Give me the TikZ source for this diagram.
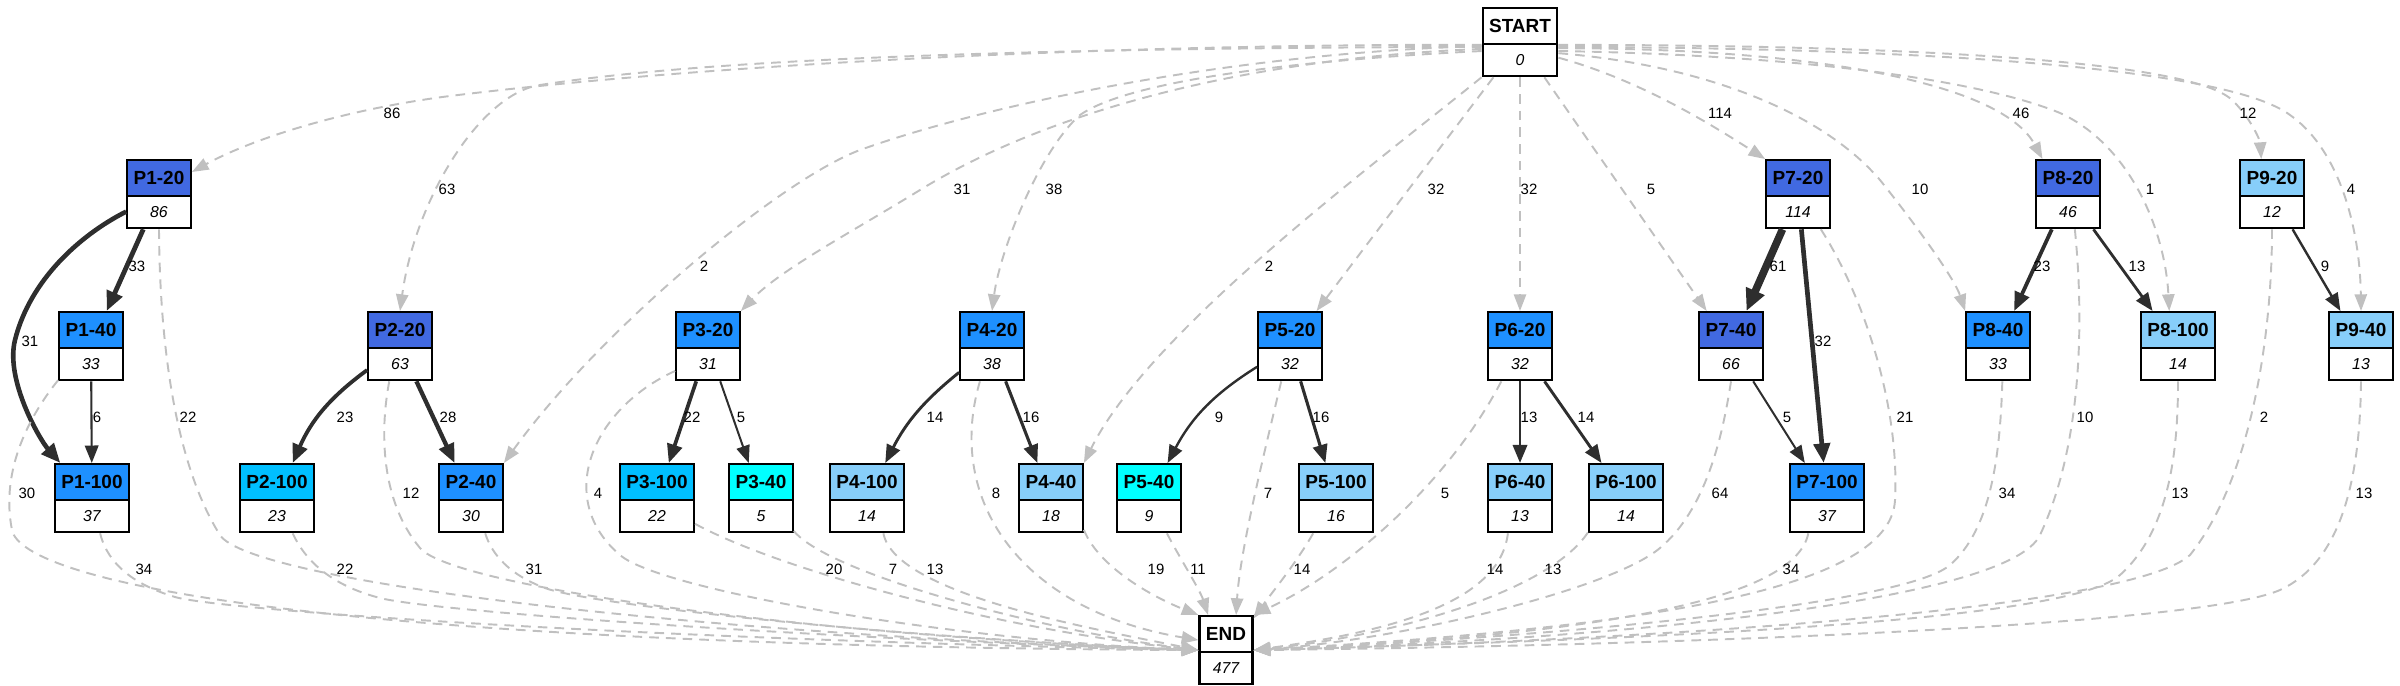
\documentclass[tikz,border=0pt]{standalone}
\usepackage{fontspec}
\setmainfont{Liberation Sans}
\usetikzlibrary{arrows.meta,shapes.multipart}

\definecolor{royal}{HTML}{4169E1}
\definecolor{dodger}{HTML}{1E90FF}
\definecolor{deepsky}{HTML}{00BFFF}
\definecolor{lightsky}{HTML}{87CEFA}
\definecolor{cyanish}{HTML}{00FFFF}
\definecolor{flowgray}{HTML}{2E2E2E}
\definecolor{skipgray}{HTML}{C0C0C0}

\newcommand{\phead}[1]{\rule[-0.205cm]{0pt}{0.68cm}{\fontsize{10.8}{12}\selectfont\bfseries #1}}
\newcommand{\pcount}[1]{\rule[-0.185cm]{0pt}{0.6cm}{\fontsize{9}{10}\selectfont\itshape #1}}

\begin{document}
\begin{tikzpicture}[
    x=0.02cm, y=-0.02cm,
    every node/.style={font=\fontsize{8.5}{10}\selectfont},
    box/.style={rectangle split, rectangle split parts=2, draw, line width=1.2pt,
                inner xsep=0.13cm, inner ysep=0pt, anchor=north},
    rb/.style={box, rectangle split part fill={royal,white}},
    db/.style={box, rectangle split part fill={dodger,white}},
    sb/.style={box, rectangle split part fill={deepsky,white}},
    lb/.style={box, rectangle split part fill={lightsky,white}},
    cb/.style={box, rectangle split part fill={cyanish,white}},
    wb/.style={box, rectangle split part fill={white,white}},
    flow/.style={draw=flowgray, line width=0.85pt+#1*0.0569pt,
                 -{Triangle[length=9pt 0.8, width=6.5pt 1]}},
    skip/.style={draw=skipgray, line width=1.1pt, dash pattern=on 5.5pt off 4pt,
                 -{Triangle[length=9.5pt, width=7pt]}},
    lbl/.style={inner sep=1pt},
  ]
  \useasboundingbox (0,0) rectangle (2400,686);

  % start and end
  \node[wb] (start) at (1520,7) {\phead{START}\nodepart{two}\pcount{0}};
  \node[wb] (end) at (1226,615) {\phead{END}\nodepart{two}\pcount{477}};

  % first step
  \node[rb] (p120) at (159,159) {\phead{P1-20}\nodepart{two}\pcount{86}};
  \node[rb] (p720) at (1798,159) {\phead{P7-20}\nodepart{two}\pcount{114}};
  \node[rb] (p820) at (2068,159) {\phead{P8-20}\nodepart{two}\pcount{46}};
  \node[lb] (p920) at (2272,159) {\phead{P9-20}\nodepart{two}\pcount{12}};

  % second step
  \node[db] (p140) at (91,311) {\phead{P1-40}\nodepart{two}\pcount{33}};
  \node[rb] (p220) at (400,311) {\phead{P2-20}\nodepart{two}\pcount{63}};
  \node[db] (p320) at (708,311) {\phead{P3-20}\nodepart{two}\pcount{31}};
  \node[db] (p420) at (992,311) {\phead{P4-20}\nodepart{two}\pcount{38}};
  \node[db] (p520) at (1290,311) {\phead{P5-20}\nodepart{two}\pcount{32}};
  \node[db] (p620) at (1520,311) {\phead{P6-20}\nodepart{two}\pcount{32}};
  \node[rb] (p740) at (1731,311) {\phead{P7-40}\nodepart{two}\pcount{66}};
  \node[db] (p840) at (1998,311) {\phead{P8-40}\nodepart{two}\pcount{33}};
  \node[lb] (p8100) at (2178,311) {\phead{P8-100}\nodepart{two}\pcount{14}};
  \node[lb] (p940) at (2361,311) {\phead{P9-40}\nodepart{two}\pcount{13}};

  % third step
  \node[db] (p1100) at (92,463) {\phead{P1-100}\nodepart{two}\pcount{37}};
  \node[sb] (p2100) at (277,463) {\phead{P2-100}\nodepart{two}\pcount{23}};
  \node[db] (p240) at (471,463) {\phead{P2-40}\nodepart{two}\pcount{30}};
  \node[sb] (p3100) at (657,463) {\phead{P3-100}\nodepart{two}\pcount{22}};
  \node[cb] (p340) at (761,463) {\phead{P3-40}\nodepart{two}\pcount{5}};
  \node[lb] (p4100) at (867,463) {\phead{P4-100}\nodepart{two}\pcount{14}};
  \node[lb] (p440) at (1051,463) {\phead{P4-40}\nodepart{two}\pcount{18}};
  \node[cb] (p540) at (1149,463) {\phead{P5-40}\nodepart{two}\pcount{9}};
  \node[lb] (p5100) at (1336,463) {\phead{P5-100}\nodepart{two}\pcount{16}};
  \node[lb] (p640) at (1520,463) {\phead{P6-40}\nodepart{two}\pcount{13}};
  \node[lb] (p6100) at (1626,463) {\phead{P6-100}\nodepart{two}\pcount{14}};
  \node[db] (p7100) at (1827,463) {\phead{P7-100}\nodepart{two}\pcount{37}};

  % from start
  \draw[skip] (start.184) .. controls (1100,44) and (700,65) .. (450,96) .. controls (340,110) and (250,140) .. (p120.34) node[lbl] at (392,113) {86};
  \draw[skip] (start.187) .. controls (1000,48) and (700,60) .. (540,85) .. controls (480,94) and (415,200) .. (p220.north) node[lbl] at (447,189) {63};
  \draw[skip] (start.190) .. controls (1250,58) and (1050,110) .. (920,190) .. controls (850,233) and (780,270) .. (p320.north east) node[lbl] at (962,189) {31};
  \draw[skip] (start.186) .. controls (1250,52) and (1000,100) .. (860,150) .. controls (780,180) and (600,330) .. (p240.north east) node[lbl] at (704,266) {2};
  \draw[skip] (start.193) .. controls (1300,60) and (1130,80) .. (1080,115) .. controls (1040,150) and (1000,250) .. (p420.north) node[lbl] at (1054,189) {38};
  \draw[skip] (start.south west) .. controls (1380,160) and (1150,330) .. (p440.north east) node[lbl] at (1269,266) {2};
  \draw[skip] (start) -- (p520) node[lbl] at (1436,189) {32};
  \draw[skip] (start) -- (p620) node[lbl] at (1529,189) {32};
  \draw[skip] (start) -- (p740) node[lbl] at (1651,189) {5};
  \draw[skip] (start.338) .. controls (1640,80) and (1712,125) .. (p720.north west) node[lbl] at (1720,113) {114};
  \draw[skip] (start.344) .. controls (1700,65) and (1820,110) .. (1880,180) .. controls (1920,230) and (1955,280) .. (p840.north west) node[lbl] at (1920,189) {10};
  \draw[skip] (start.351) .. controls (1800,48) and (2000,80) .. (p820.126) node[lbl] at (2021,113) {46};
  \draw[skip] (start.347) .. controls (1800,55) and (1980,80) .. (2060,113) .. controls (2130,145) and (2165,230) .. (p8100.104) node[lbl] at (2150,189) {1};
  \draw[skip] (start.356) .. controls (1900,45) and (2190,60) .. (2232,100) .. controls (2250,117) and (2260,140) .. (p920.107) node[lbl] at (2248,113) {12};
  \draw[skip] (start.353) .. controls (1950,48) and (2230,70) .. (2290,115) .. controls (2340,150) and (2360,230) .. (p940.north) node[lbl] at (2351,189) {4};

  % between steps
  \draw[flow=33] (p120) -- (p140) node[lbl] at (137,266) {33};
  \draw[flow=31] (p120.208) .. controls (80,235) and (30,280) .. (15,340) .. controls (5,380) and (40,440) .. (p1100.132) node[lbl] at (30,341) {31};
  \draw[flow=6] (p140) -- (p1100) node[lbl] at (97,417) {6};
  \draw[flow=23] (p220) to[bend right=15] (p2100) node[lbl] at (345,417) {23};
  \draw[flow=28] (p220) -- (p240) node[lbl] at (448,417) {28};
  \draw[flow=22] (p320) -- (p3100) node[lbl] at (692,417) {22};
  \draw[flow=5] (p320) -- (p340) node[lbl] at (741,417) {5};
  \draw[flow=14] (p420) to[bend right=12] (p4100) node[lbl] at (935,417) {14};
  \draw[flow=16] (p420) -- (p440) node[lbl] at (1031,417) {16};
  \draw[flow=9] (p520) to[bend right=15] (p540) node[lbl] at (1219,417) {9};
  \draw[flow=16] (p520) -- (p5100) node[lbl] at (1321,417) {16};
  \draw[flow=13] (p620) -- (p640) node[lbl] at (1529,417) {13};
  \draw[flow=14] (p620) -- (p6100) node[lbl] at (1586,417) {14};
  \draw[flow=61] (p720) -- (p740) node[lbl] at (1778,266) {61};
  \draw[flow=32] (p720) -- (p7100) node[lbl] at (1823,341) {32};
  \draw[flow=5] (p740) -- (p7100) node[lbl] at (1787,417) {5};
  \draw[flow=23] (p820) -- (p840) node[lbl] at (2042,266) {23};
  \draw[flow=13] (p820) -- (p8100) node[lbl] at (2137,266) {13};
  \draw[flow=9] (p920) -- (p940) node[lbl] at (2325,266) {9};

  % to end, left side
  \draw[skip] (p120.south) .. controls (160,380) and (185,480) .. (220,535) .. controls (250,582) and (700,635) .. (end.west) node[lbl] at (188,417) {22};
  \draw[skip] (p140.226) .. controls (30,415) and (0,470) .. (12,530) .. controls (22,580) and (300,645) .. (end.west) node[lbl] at (27,493) {30};
  \draw[skip] (p1100.-77) .. controls (108,565) and (135,585) .. (175,597) .. controls (215,609) and (600,638) .. (end.west) node[lbl] at (144,569) {34};
  \draw[skip] (p2100.-66) .. controls (305,560) and (330,585) .. (380,598) .. controls (430,611) and (800,638) .. (end.west) node[lbl] at (345,569) {22};
  \draw[skip] (p220.-107) .. controls (380,430) and (380,500) .. (420,548) .. controls (452,586) and (800,635) .. (end.west) node[lbl] at (411,493) {12};
  \draw[skip] (p240.-68) .. controls (492,555) and (510,575) .. (545,588) .. controls (590,605) and (900,638) .. (end.west) node[lbl] at (534,569) {31};
  \draw[skip] (p320.217) .. controls (590,410) and (555,500) .. (620,555) .. controls (660,590) and (950,640) .. (end.west) node[lbl] at (598,493) {4};
  \draw[skip] (p3100.-34) .. controls (780,570) and (1000,630) .. (end.west) node[lbl] at (834,569) {20};
  \draw[skip] (p340.-45) .. controls (830,575) and (1050,632) .. (end.west) node[lbl] at (893,569) {7};
  \draw[skip] (p4100.-65) .. controls (895,595) and (1100,630) .. (end.west) node[lbl] at (935,569) {13};
  \draw[skip] (p420.-109) .. controls (945,500) and (1020,610) .. (end.160) node[lbl] at (996,493) {8};
  \draw[skip] (p440.-44) .. controls (1100,570) and (1160,600) .. (end.north west) node[lbl] at (1156,569) {19};
  \draw[skip] (p540.-63) .. controls (1178,555) and (1200,590) .. (end.117) node[lbl] at (1198,569) {11};
  \draw[skip] (p520.-104) .. controls (1265,450) and (1240,550) .. (end.74) node[lbl] at (1268,493) {7};
  \draw[skip] (p5100.-123) .. controls (1295,565) and (1270,595) .. (end.49) node[lbl] at (1302,569) {14};

  % to end, right side
  \draw[skip] (p620.-118) .. controls (1450,480) and (1350,570) .. (end.north east) node[lbl] at (1445,493) {5};
  \draw[skip] (p640.-109) .. controls (1500,600) and (1400,630) .. (end.east) node[lbl] at (1495,569) {14};
  \draw[skip] (p6100.-138) .. controls (1550,590) and (1400,635) .. (end.east) node[lbl] at (1553,569) {13};
  \draw[skip] (p740.south) .. controls (1722,440) and (1705,510) .. (1660,548) .. controls (1610,590) and (1400,640) .. (end.east) node[lbl] at (1720,493) {64};
  \draw[skip] (p7100.-118) .. controls (1795,600) and (1600,635) .. (end.east) node[lbl] at (1791,569) {34};
  \draw[skip] (p720.-57) .. controls (1860,290) and (1900,400) .. (1895,500) .. controls (1891,580) and (1700,625) .. (end.east) node[lbl] at (1905,417) {21};
  \draw[skip] (p840.-83) .. controls (2000,460) and (1990,530) .. (1950,565) .. controls (1900,608) and (1500,640) .. (end.east) node[lbl] at (2007,493) {34};
  \draw[skip] (p820.-79) .. controls (2085,330) and (2080,450) .. (2040,535) .. controls (2008,603) and (1600,640) .. (end.east) node[lbl] at (2085,417) {10};
  \draw[skip] (p8100.south) .. controls (2178,450) and (2170,530) .. (2120,575) .. controls (2065,625) and (1600,640) .. (end.east) node[lbl] at (2180,493) {13};
  \draw[skip] (p920.south) .. controls (2272,340) and (2250,480) .. (2190,555) .. controls (2130,610) and (1650,640) .. (end.east) node[lbl] at (2264,417) {2};
  \draw[skip] (p940.south) .. controls (2360,470) and (2345,560) .. (2280,590) .. controls (2200,625) and (1700,645) .. (end.east) node[lbl] at (2364,493) {13};
\end{tikzpicture}
\end{document}
